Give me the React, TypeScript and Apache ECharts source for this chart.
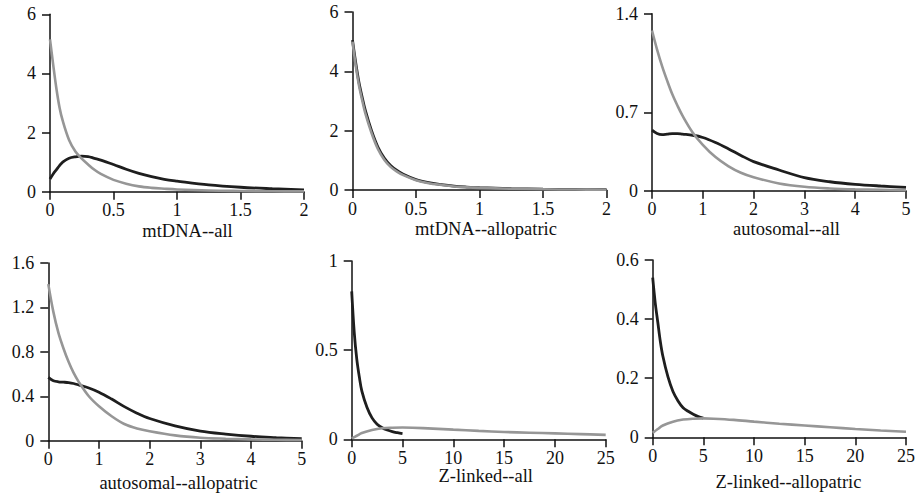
import React, { useEffect, useRef } from 'react';
import * as echarts from 'echarts';

// Panel 1: mtDNA--all
const p1X = [0, 0.025, 0.05, 0.075, 0.1, 0.15, 0.2, 0.25, 0.3, 0.35, 0.4, 0.5, 0.6, 0.7, 0.8, 0.9, 1.0, 1.25, 1.5, 1.75, 2.0];
const p1Dark = [0.43, 0.6, 0.74, 0.88, 1.0, 1.13, 1.18, 1.2, 1.19, 1.13, 1.07, 0.92, 0.76, 0.62, 0.51, 0.42, 0.36, 0.23, 0.15, 0.1, 0.06];
const p1Gray = [5.15, 4.3, 3.5, 2.85, 2.4, 1.75, 1.36, 1.12, 0.92, 0.74, 0.6, 0.4, 0.27, 0.18, 0.13, 0.1, 0.075, 0.04, 0.025, 0.015, 0.01];

// Panel 2: mtDNA--allopatric
const p2X = [0, 0.025, 0.05, 0.075, 0.1, 0.15, 0.2, 0.25, 0.3, 0.35, 0.4, 0.5, 0.6, 0.7, 0.8, 0.9, 1.0, 1.25, 1.5, 1.75, 2.0];
const p2Dark = [5.05, 4.3, 3.65, 3.15, 2.7, 2.0, 1.45, 1.08, 0.83, 0.66, 0.53, 0.35, 0.245, 0.18, 0.13, 0.1, 0.078, 0.045, 0.028, 0.018, 0.012];
const p2Gray = [5.0, 4.2, 3.55, 3.05, 2.6, 1.92, 1.38, 1.02, 0.78, 0.62, 0.5, 0.33, 0.23, 0.17, 0.12, 0.09, 0.07, 0.04, 0.025, 0.015, 0.01];

// Panel 3: autosomal--all
const p3X = [0, 0.1, 0.2, 0.3, 0.4, 0.5, 0.6, 0.8, 1.0, 1.25, 1.5, 1.75, 2.0, 2.5, 3.0, 3.5, 4.0, 4.5, 5.0];
const p3Dark = [0.54, 0.51, 0.5, 0.505, 0.51, 0.51, 0.505, 0.495, 0.475, 0.43, 0.375, 0.315, 0.26, 0.185, 0.116, 0.08, 0.057, 0.042, 0.03];
const p3Gray = [1.43, 1.26, 1.11, 0.98, 0.86, 0.76, 0.67, 0.52, 0.41, 0.3, 0.22, 0.16, 0.12, 0.065, 0.035, 0.02, 0.012, 0.008, 0.005];

// Panel 4: autosomal--allopatric
const p4X = [0, 0.1, 0.2, 0.3, 0.4, 0.5, 0.6, 0.8, 1.0, 1.25, 1.5, 1.75, 2.0, 2.5, 3.0, 3.5, 4.0, 4.5, 5.0];
const p4Dark = [0.57, 0.54, 0.53, 0.527, 0.523, 0.515, 0.502, 0.475, 0.437, 0.375, 0.307, 0.248, 0.2, 0.134, 0.087, 0.06, 0.04, 0.028, 0.018];
const p4Gray = [1.41, 1.16, 0.97, 0.83, 0.71, 0.61, 0.53, 0.4, 0.31, 0.22, 0.15, 0.11, 0.085, 0.048, 0.027, 0.018, 0.012, 0.008, 0.006];

// Panel 5: Z-linked--all
const p5DarkX = [0, 0.25, 0.5, 0.75, 1, 1.5, 2, 2.5, 3, 3.5, 4, 4.5, 5];
const p5Dark = [0.83, 0.6, 0.45, 0.35, 0.27, 0.18, 0.12, 0.085, 0.065, 0.052, 0.043, 0.037, 0.032];
const p5GrayX = [0, 0.5, 1, 2, 3, 4, 5, 6, 8, 10, 12.5, 15, 17.5, 20, 22.5, 25];
const p5Gray = [0.005, 0.02, 0.035, 0.052, 0.062, 0.065, 0.066, 0.065, 0.06, 0.054, 0.047, 0.041, 0.037, 0.033, 0.029, 0.025];

// Panel 6: Z-linked--allopatric
const p6DarkX = [0, 0.25, 0.5, 0.75, 1, 1.5, 2, 2.5, 3, 3.5, 4, 4.5, 5];
const p6Dark = [0.54, 0.455, 0.39, 0.325, 0.275, 0.205, 0.155, 0.123, 0.1, 0.088, 0.078, 0.07, 0.065];
const p6GrayX = [0, 0.5, 1, 2, 3, 4, 5, 6, 8, 10, 12.5, 15, 17.5, 20, 22.5, 25];
const p6Gray = [0.015, 0.028, 0.04, 0.053, 0.06, 0.063, 0.064, 0.063, 0.059, 0.053, 0.046, 0.04, 0.034, 0.028, 0.023, 0.019];

const titles = ['mtDNA--all', 'mtDNA--allopatric', 'autosomal--all', 'autosomal--allopatric', 'Z-linked--all', 'Z-linked--allopatric'];
const xMaxes = [2, 2, 5, 5, 25, 25];
const xSteps = [0.5, 0.5, 1, 1, 5, 5];
const yTickValues = [
  [0, 2, 4, 6],
  [0, 2, 4, 6],
  [0, 0.7, 1.58],
  [0, 0.4, 0.8, 1.2, 1.6],
  [0, 0.5, 1],
  [0, 0.2, 0.4, 0.6],
];
const yTickLabels = [
  ['0', '2', '4', '6'],
  ['0', '2', '4', '6'],
  ['0', '0.7', '1.4'],
  ['0', '0.4', '0.8', '1.2', '1.6'],
  ['0', '0.5', '1'],
  ['0', '0.2', '0.4', '0.6'],
];

const darkSeries = [
  [p1X, p1Dark], [p2X, p2Dark], [p3X, p3Dark], [p4X, p4Dark], [p5DarkX, p5Dark], [p6DarkX, p6Dark],
];
const graySeries = [
  [p1X, p1Gray], [p2X, p2Gray], [p3X, p3Gray], [p4X, p4Gray], [p5GrayX, p5Gray], [p6GrayX, p6Gray],
];

const FONT = "'Liberation Serif', 'Times New Roman', serif";
const DARK = '#1e1e1e';
const GRAY = '#969696';

const grids = [
  { left: 50, top: 14.3, width: 254, height: 177.4 },
  { left: 352.5, top: 12, width: 254, height: 178 },
  { left: 652, top: 13.7, width: 254, height: 177 },
  { left: 48.3, top: 263, width: 253.4, height: 177.7 },
  { left: 351.7, top: 261, width: 254, height: 178.3 },
  { left: 652.7, top: 260, width: 253.3, height: 177.3 },
];
const titlePos = [
  [187.5, 231],
  [486, 229],
  [786.5, 229],
  [178.5, 483],
  [485.7, 476],
  [788.5, 482],
];

function zip(xs: number[], ys: number[]) {
  return xs.map((x, i) => [x, ys[i]]);
}

const richText = {
  s: { fontFamily: FONT, fontSize: 18, color: '#111', lineHeight: 13, fontWeight: 'normal' },
};

export default function App() {
  const ref = useRef<HTMLDivElement>(null);
  useEffect(() => {
    if (!ref.current) return;
    const chart = echarts.init(ref.current, undefined, { renderer: 'svg' });
    const axisLine = { show: true, lineStyle: { color: '#111', width: 1.5 } };
    const axisTick = { show: true, length: 8, inside: false, lineStyle: { color: '#111', width: 1.5 } };
    const mkLabel = (extra: any) => ({
      color: '#111',
      fontFamily: FONT,
      fontSize: 18,
      lineHeight: 13,
      rich: richText,
      ...extra,
    });

    const option: any = {
      animation: false,
      backgroundColor: '#fff',
      textStyle: { fontFamily: FONT, fontSize: 18 },
      grid: grids.map((g) => ({ ...g, containLabel: false, outerBoundsMode: 'none' })),
      xAxis: xMaxes.map((mx, i) => ({
        type: 'value',
        gridIndex: i,
        min: 0,
        max: mx,
        interval: xSteps[i],
        axisLine,
        axisTick,
        splitLine: { show: false },
        axisLabel: mkLabel({
          margin: 12,
          showMinLabel: true,
          showMaxLabel: true,
          formatter: (v: number) => `{s|${v}}`,
        }),
      })),
      yAxis: yTickValues.map((vals, i) => ({
        type: 'value',
        gridIndex: i,
        min: 0,
        max: vals[vals.length - 1],
        axisLine,
        axisTick: { ...axisTick, customValues: vals },
        splitLine: { show: false },
        axisLabel: mkLabel({
          margin: 14,
          customValues: vals,
          formatter: (v: number) => {
            const k = vals.findIndex((t) => Math.abs(t - v) < 1e-9);
            return k >= 0 ? `{s|${yTickLabels[i][k]}}` : '';
          },
        }),
      })),
      series: [
        ...darkSeries.map(([xs, ys], i) => ({
          type: 'line',
          xAxisIndex: i,
          yAxisIndex: i,
          data: zip(xs, ys),
          showSymbol: false,
          smooth: 0.35,
          lineStyle: { color: DARK, width: 2.8 },
          z: 2,
        })),
        ...graySeries.map(([xs, ys], i) => ({
          type: 'line',
          xAxisIndex: i,
          yAxisIndex: i,
          data: zip(xs, ys),
          showSymbol: false,
          smooth: 0.35,
          lineStyle: { color: GRAY, width: 2.6 },
          z: 3,
        })),
      ],
      graphic: titles.map((t, i) => ({
        type: 'text',
        x: titlePos[i][0],
        y: titlePos[i][1],
        style: {
          text: t,
          fill: '#111',
          fontFamily: FONT,
          fontSize: 18.5,
          lineHeight: 14,
          align: 'center',
          verticalAlign: 'middle',
        },
      })),
    };
    chart.setOption(option);
    return () => chart.dispose();
  }, []);
  return (
    <div
      ref={ref}
      style={{ position: 'fixed', left: 0, top: 0, width: 921, height: 499, background: '#fff' }}
    />
  );
}
